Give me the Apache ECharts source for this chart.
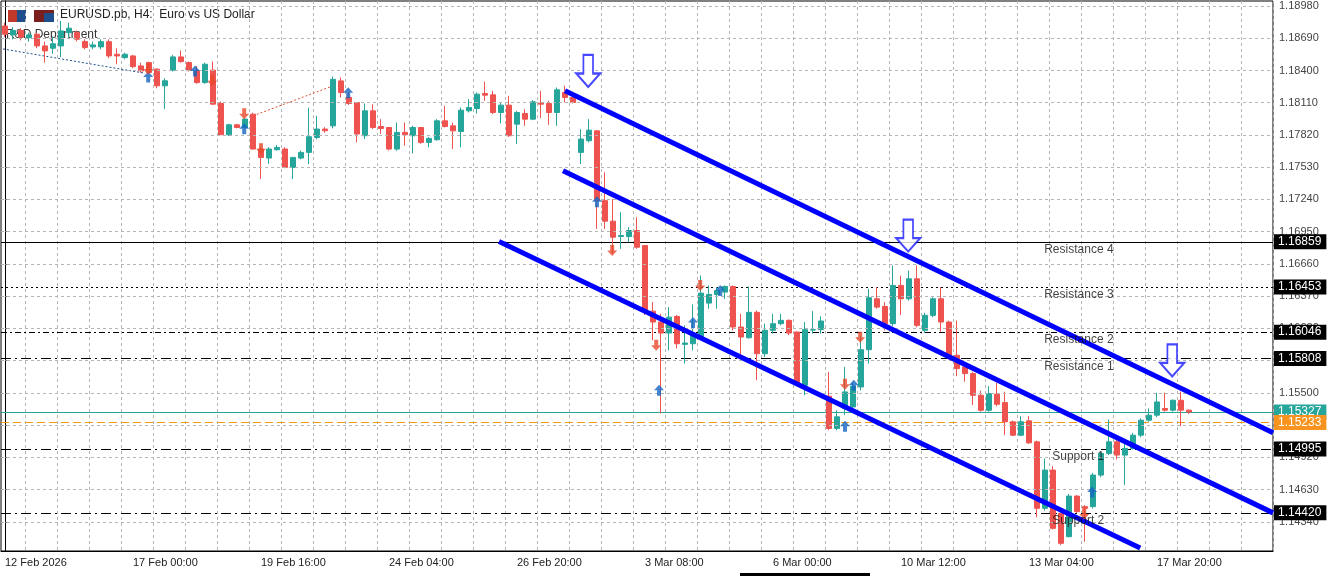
<!DOCTYPE html>
<html>
<head>
<meta charset="utf-8">
<script src="https://cdn.jsdelivr.net/npm/echarts@6/dist/echarts.min.js"></script>
<style>
  html,body{margin:0;padding:0;background:#fff;}
  #echarts{width:1333px;height:576px;}
</style>
</head>
<body>
<div id="echarts"></div>
<script>
// 价格数据 [open, close, low, high]
var ohlc = [
  [1.18800,1.18726,1.18700,1.18830],[1.18720,1.18760,1.18680,1.18790],[1.18760,1.18700,1.18670,1.18780],
  [1.18695,1.18720,1.18660,1.18740],[1.18726,1.18621,1.18600,1.18740],[1.18621,1.18576,1.18471,1.18660],
  [1.18600,1.18640,1.18550,1.18700],[1.18621,1.18756,1.18520,1.18845],[1.18740,1.18780,1.18700,1.18830],
  [1.18740,1.18681,1.18660,1.18760],[1.18660,1.18606,1.18590,1.18680],[1.18612,1.18630,1.18590,1.18660],
  [1.18612,1.18659,1.18590,1.18680],[1.18659,1.18531,1.18510,1.18680],[1.18546,1.18531,1.18456,1.18600],
  [1.18516,1.18546,1.18500,1.18560],[1.18531,1.18435,1.18420,1.18540],[1.18441,1.18396,1.18380,1.18470],
  [1.18471,1.18381,1.18370,1.18480],[1.18412,1.18262,1.18240,1.18420],[1.18262,1.18307,1.18052,1.18330],
  [1.18403,1.18522,1.18390,1.18540],[1.18522,1.18480,1.18470,1.18580],[1.18471,1.18403,1.18390,1.18480],
  [1.18400,1.18291,1.18280,1.18440],[1.18291,1.18456,1.18280,1.18470],[1.18403,1.18097,1.18090,1.18480],
  [1.18103,1.17822,1.17820,1.18120],[1.17822,1.17911,1.17810,1.17920],[1.17911,1.17887,1.17880,1.17920],
  [1.17887,1.17963,1.17880,1.17970],[1.18007,1.17693,1.17690,1.18020],[1.17693,1.17618,1.17424,1.17710],
  [1.17612,1.17693,1.17560,1.17710],[1.17687,1.17708,1.17680,1.17730],[1.17693,1.17528,1.17520,1.17710],
  [1.17528,1.17618,1.17424,1.17620],[1.17612,1.17663,1.17600,1.17680],[1.17663,1.17804,1.17558,1.18066],
  [1.17797,1.17873,1.17780,1.17992],[1.17873,1.17858,1.17840,1.17890],[1.17902,1.18320,1.17880,1.18345],
  [1.18306,1.18202,1.18157,1.18336],[1.18157,1.18103,1.18090,1.18200],[1.18112,1.17828,1.17753,1.18112],
  [1.17813,1.18037,1.17783,1.18103],[1.18037,1.17887,1.17872,1.18097],[1.17896,1.17878,1.17828,1.17962],
  [1.17887,1.17693,1.17680,1.17887],[1.17693,1.17843,1.17678,1.17932],[1.17843,1.17822,1.17723,1.17932],
  [1.17813,1.17887,1.17654,1.17902],[1.17887,1.17753,1.17740,1.17887],[1.17753,1.17789,1.17708,1.17800],
  [1.17777,1.17947,1.17768,1.17962],[1.17947,1.17896,1.17887,1.18082],[1.17902,1.17857,1.17693,1.17932],
  [1.17851,1.18043,1.17708,1.18067],[1.18037,1.18067,1.18022,1.18142],[1.18058,1.18187,1.18013,1.18202],
  [1.18193,1.18178,1.18127,1.18300],[1.18181,1.18022,1.18007,1.18217],[1.18022,1.18088,1.17923,1.18112],
  [1.18088,1.17813,1.17804,1.18172],[1.17917,1.18022,1.17738,1.18037],[1.18013,1.17962,1.17902,1.18052],
  [1.17962,1.18118,1.17953,1.18133],[1.18106,1.18097,1.17971,1.18217],[1.18103,1.18022,1.17911,1.18127],
  [1.18022,1.18226,1.17902,1.18247],[1.18202,1.18157,1.18112,1.18262],[1.18157,1.18112,1.18103,1.18187],
  [1.17663,1.17783,1.17558,1.17872],[1.17768,1.17863,1.17753,1.17962],[1.17857,1.17229,1.16975,1.17860],
  [1.17229,1.17044,1.16975,1.17484],[1.17044,1.16900,1.16750,1.17244],[1.16906,1.16915,1.16795,1.17124],
  [1.16906,1.16960,1.16855,1.16990],[1.16960,1.16810,1.16795,1.17079],[1.16825,1.16241,1.16200,1.16830],
  [1.16235,1.16137,1.15972,1.16316],[1.16137,1.16038,1.15314,1.16211],[1.16038,1.16181,1.15882,1.16271],
  [1.16187,1.15942,1.15900,1.16200],[1.15936,1.15948,1.15763,1.16107],[1.15942,1.16032,1.15882,1.16295],
  [1.16002,1.16397,1.15990,1.16556],[1.16307,1.16385,1.16256,1.16466],[1.16385,1.16421,1.16256,1.16451],
  [1.16406,1.16457,1.16346,1.16466],[1.16457,1.16092,1.16062,1.16466],[1.16092,1.16002,1.15822,1.16211],
  [1.15996,1.16224,1.15987,1.16457],[1.16224,1.15852,1.15613,1.16241],[1.15852,1.16062,1.15822,1.16122],
  [1.16062,1.16122,1.16032,1.16211],[1.16122,1.16152,1.16107,1.16211],[1.16152,1.16038,1.16020,1.16160],
  [1.16047,1.15583,1.15570,1.16050],[1.15568,1.16068,1.15478,1.16137],[1.16065,1.16068,1.16032,1.16235],
  [1.16068,1.16146,1.16032,1.16188],[1.15469,1.15179,1.15164,1.15688],[1.15179,1.15284,1.15164,1.15343],
  [1.15358,1.15508,1.15300,1.15733],[1.15373,1.15559,1.15340,1.15590],[1.15553,1.15888,1.15523,1.16017],
  [1.15888,1.16355,1.15763,1.16436],[1.16346,1.16271,1.16256,1.16451],[1.16277,1.16122,1.16062,1.16316],
  [1.16122,1.16466,1.16100,1.16646],[1.16466,1.16346,1.16200,1.16555],[1.16346,1.16526,1.16330,1.16600],
  [1.16526,1.16107,1.16090,1.16646],[1.16062,1.16197,1.16040,1.16220],[1.16197,1.16346,1.16180,1.16360],
  [1.16346,1.16137,1.16050,1.16451],[1.16137,1.15838,1.15800,1.16150],[1.15838,1.15718,1.15650,1.16150],
  [1.15733,1.15673,1.15600,1.15760],[1.15673,1.15478,1.15390,1.15690],[1.15478,1.15343,1.15330,1.15520],
  [1.15343,1.15493,1.15330,1.15560],[1.15487,1.15397,1.15380,1.15590],[1.15412,1.15239,1.15120,1.15510],
  [1.15239,1.15119,1.15110,1.15250],[1.15119,1.15239,1.15110,1.15290],[1.15248,1.15050,1.15040,1.15290],
  [1.15059,1.14461,1.14380,1.15070],[1.14461,1.14805,1.14440,1.14910],[1.14805,1.14281,1.14270,1.14840],
  [1.14416,1.14146,1.14130,1.14420],[1.14206,1.14571,1.14200,1.14590],[1.14571,1.14431,1.14420,1.14580],
  [1.14476,1.14461,1.14161,1.14490],[1.14476,1.14760,1.14460,1.14780],[1.14760,1.14955,1.14740,1.14970],
  [1.14955,1.15059,1.14940,1.15260],[1.15059,1.14940,1.14900,1.15100],[1.14940,1.15000,1.14670,1.15050],
  [1.15000,1.15119,1.14990,1.15140],[1.15119,1.15254,1.15100,1.15270],[1.15254,1.15299,1.15240,1.15360],
  [1.15299,1.15418,1.15280,1.15500],[1.15359,1.15344,1.15330,1.15500],[1.15344,1.15433,1.15330,1.15440],
  [1.15433,1.15344,1.15200,1.15510],[1.15344,1.15327,1.15310,1.15350]
];
var slotCount = 159;
var tickIdx = [0,16,32,48,64,80,96,112,128,144];
var tickText = ['12 Feb 2026','17 Feb 00:00','19 Feb 16:00','24 Feb 04:00','26 Feb 20:00','3 Mar 08:00','6 Mar 00:00','10 Mar 12:00','13 Mar 04:00','17 Mar 20:00'];
var priceTicks = [1.18980,1.18690,1.18400,1.18110,1.17820,1.17530,1.17240,1.16950,1.16660,1.16370,1.16080,1.15790,1.15500,1.15210,1.14920,1.14630,1.14340];
// 支撑阻力位
var levelNames = ['Resistance 4','Resistance 3','Resistance 2','Resistance 1','Support 1','Support 2'];
var levelPrices = [1.16859,1.16453,1.16046,1.15808,1.14995,1.14420];
var levelTypes = ['solid',[2,3],[6,3,2,3],[10,4,2,4],[10,4,2,4],[10,4,2,4]];
var lastPrice = 1.15327;
var askPrice = 1.15233;
// 通道线 [x, price]
var channelUpper = [[70,1.18217],[158.5,1.15140]];
var channelMid = [[69.75,1.17498],[158.5,1.14420]];
var channelLow = [[61.75,1.16861],[141.9,1.14104]];
var bigArrows = [[72.9,1.18396],[112.9,1.16915],[145.9,1.15792]];
var upSignals = [[17.9,1.18342],[23.75,1.18396],[29.9,1.17875],[42.9,1.18199],[74,1.17220],[81.75,1.15523],[86,1.16133],[89.4,1.16421],[105,1.15199],[106.1,1.15568],[135.9,1.14607]];
var downSignals = [[17.9,1.18414],[25.9,1.18307],[29.9,1.18010],[32,1.17696],[75.9,1.16780],[81.4,1.15927],[86.9,1.16466],[105,1.15577],[106.9,1.15999],[134.9,1.14409]];
var trailBlue = [[-0.25,1.18594],[17.25,1.18378]];
var trailRed = [[31,1.17992],[41,1.18262]];

var cats = [];
for (var i = 0; i < slotCount; i++) cats.push('');
tickIdx.forEach(function(k, j){ cats[k] = tickText[j]; });

var upColor = '#26a69a', downColor = '#ef5350';
var font = 'Liberation Sans';

var hLines = [];
levelPrices.forEach(function(p, j){
  hLines.push({yAxis: p, lineStyle: {color: '#000', type: levelTypes[j], width: 1},
    label: {backgroundColor: '#000', color: '#fff'}});
});
hLines.push({yAxis: lastPrice, lineStyle: {color: '#26a69a', type: 'solid', width: 1},
  label: {backgroundColor: '#26a69a', color: '#fff'}});
hLines.push({yAxis: askPrice, lineStyle: {color: '#f39c12', type: [8,4], width: 1},
  label: {backgroundColor: '#f7931e', color: '#fff'}});

var gridLines = priceTicks.map(function(p){ return {yAxis: p}; });

var levelLabels = levelPrices.map(function(p, j){
  return {value: [j < 4 ? 129.9 : 130.9, p], label: {formatter: levelNames[j]}};
});

function chanSeries(d){
  return {type: 'line', xAxisIndex: 1, data: d, symbol: 'none', silent: true, z: 6,
    lineStyle: {color: '#0000ff', width: 5}};
}

var option = {
  animation: false,
  textStyle: {fontFamily: font},
  grid: {left: 1, right: 60, top: 1, bottom: 25, show: true, borderColor: '#000', borderWidth: 1},
  xAxis: [{
    type: 'category', data: cats, boundaryGap: true,
    axisLine: {lineStyle: {color: '#000'}},
    axisTick: {show: false},
    axisLabel: {interval: 0, align: 'left', margin: 6, color: '#222', fontSize: 11, fontFamily: font},
    splitLine: {show: true, interval: function(idx){ return idx % 4 === 3; }, lineStyle: {color: '#b5b5b5', type: [3,3]}}
  },{
    type: 'value', min: -0.5, max: slotCount - 0.5, show: false
  }],
  yAxis: {
    type: 'value', position: 'right', min: 1.14077, max: 1.19025, scale: true,
    splitLine: {show: false},
    axisLine: {show: true, lineStyle: {color: '#000'}},
    axisTick: {show: true, customValues: priceTicks, length: 4, lineStyle: {color: '#777'}},
    axisLabel: {customValues: priceTicks, color: '#444', fontSize: 11, fontFamily: font, margin: 6,
      formatter: function(v){ return v.toFixed(5); }}
  },
  series: [{
    type: 'candlestick', data: ohlc, barWidth: 6, z: 3,
    itemStyle: {color: upColor, color0: downColor, borderColor: upColor, borderColor0: downColor, borderWidth: 1},
    markLine: {
      silent: true, symbol: 'none', animation: false, z: 1, precision: 5,
      label: {position: 'end', distance: 1, fontSize: 12, fontFamily: font, padding: [2,5,1,4],
        formatter: function(p){ return p.value.toFixed(5); }},
      data: hLines
    }
  },{
    type: 'line', data: [], silent: true,
    markLine: {silent: true, symbol: 'none', animation: false, label: {show: false}, precision: 5,
      lineStyle: {color: '#b5b5b5', type: [3,3], width: 1}, data: gridLines}
  },
  chanSeries(channelUpper), chanSeries(channelMid), chanSeries(channelLow),
  {
    type: 'line', xAxisIndex: 1, data: trailBlue, symbol: 'none', silent: true,
    lineStyle: {color: '#1f4e8c', width: 1, type: [2,2]}
  },{
    type: 'line', xAxisIndex: 1, data: trailRed, symbol: 'none', silent: true,
    lineStyle: {color: '#d9532c', width: 1, type: [2,2]}
  },{
    type: 'scatter', xAxisIndex: 1, data: upSignals, z: 7,
    symbol: 'path://M50,0 L100,50 L70,50 L70,100 L30,100 L30,50 L0,50 Z', symbolSize: [10,11],
    itemStyle: {color: '#1565c0'}
  },{
    type: 'scatter', xAxisIndex: 1, data: downSignals, z: 7,
    symbol: 'path://M30,0 L70,0 L70,50 L100,50 L50,100 L0,50 L30,50 Z', symbolSize: [10,11],
    itemStyle: {color: '#e8472a'}
  },{
    type: 'scatter', xAxisIndex: 1, data: bigArrows, z: 8,
    symbol: 'path://M30,0 L70,0 L70,58 L100,58 L50,100 L0,58 L30,58 Z', symbolSize: [24,32],
    itemStyle: {color: '#ffffff', borderColor: '#1a1aff', borderWidth: 2}
  },{
    type: 'scatter', xAxisIndex: 1, data: levelLabels, symbolSize: 0, z: 9, silent: true,
    label: {show: true, position: 'right', offset: [-5, 8], color: '#111', fontSize: 12, fontFamily: font}
  }],
  graphic: [
    {type: 'rect', left: 8, top: 10, shape: {width: 18, height: 12}, style: {fill: '#c0392b'}},
    {type: 'rect', left: 17, top: 10, shape: {width: 9, height: 12}, style: {fill: '#1f4e8c'}},
    {type: 'rect', left: 34, top: 10, shape: {width: 20, height: 12}, style: {fill: '#7a1f1f'}},
    {type: 'rect', left: 44, top: 13, shape: {width: 10, height: 9}, style: {fill: '#1f4e8c'}},
    {type: 'text', left: 60, top: 9, style: {text: 'EURUSD.pb, H4:  Euro vs US Dollar', fill: '#222', font: '12px "Liberation Sans"'}},
    {type: 'text', left: 6, top: 29, style: {text: 'R&D Department', fill: '#333', font: '12px "Liberation Sans"'}},
    {type: 'rect', left: 740, top: 573, shape: {width: 130, height: 3}, style: {fill: '#000'}}
  ]
};
var chart = echarts.init(document.getElementById('echarts'));
chart.setOption(option);
</script>
</body>
</html>
